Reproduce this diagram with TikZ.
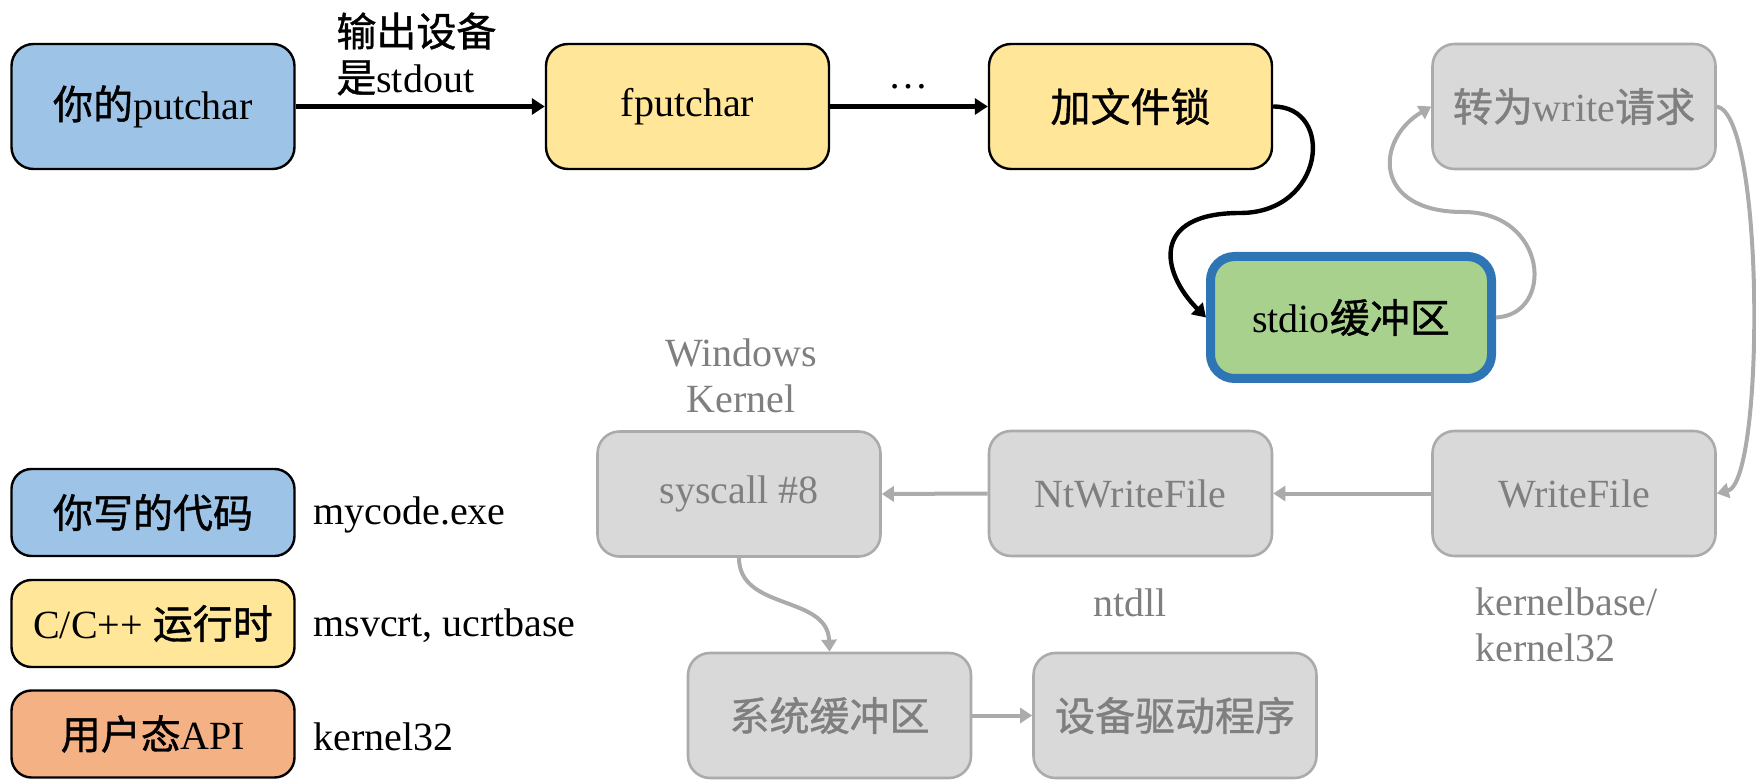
\documentclass[tikz,border=0pt]{standalone}
\usepackage{fontspec}
\setmainfont{Liberation Serif}
\newfontfamily\cjkfont[FakeBold=1]{Noto Sans CJK SC}
\newcommand{\zh}[1]{{\cjkfont #1}}
\usetikzlibrary{arrows.meta}

\definecolor{codeblue}{HTML}{9DC3E6}
\definecolor{rtyellow}{HTML}{FFE699}
\definecolor{bufgreen}{HTML}{A9D18E}
\definecolor{apiorange}{HTML}{F4B183}
\definecolor{boxgray}{HTML}{D9D9D9}
\definecolor{edgegray}{HTML}{ABABAB}
\definecolor{textgray}{HTML}{7F7F7F}
\definecolor{stdioblue}{HTML}{2E75B6}

\begin{document}
\begin{tikzpicture}[x=0.5pt,y=-0.5pt,
  font=\fontsize{20}{23}\selectfont,
  box/.style={draw=black, line width=1.2pt, rounded corners=11pt,
    minimum width=141.5pt, minimum height=62.5pt, inner sep=0pt},
  gbox/.style={draw=edgegray, fill=boxgray, text=textgray, line width=1.3pt,
    rounded corners=11pt, minimum width=141.5pt, minimum height=62.5pt, inner sep=0pt},
  legendbox/.style={box, minimum height=43.5pt, rounded corners=10pt},
  lbl/.style={inner sep=0pt},
  glbl/.style={inner sep=0pt, text=textgray},
  blk/.style={line width=2.2pt, -{Triangle[length=6.5pt,width=8pt]}},
  gry/.style={draw=edgegray, line width=2pt, -{Triangle[length=6pt,width=7.5pt]}}
]
\useasboundingbox (0,0) rectangle (1756,780);

% main call chain
\node[box, fill=codeblue]  (put)  at (153,106.5)  {\zh{你的}putchar};
\node[box, fill=rtyellow]  (fput) at (687.5,106.5) {fputchar};
\node[box, fill=rtyellow]  (lock) at (1130.5,106.5) {\zh{加文件锁}};
\node[gbox]                (req)  at (1574,106.5) {\zh{转为}write\zh{请求}};
\node[draw=stdioblue, line width=4.5pt, fill=bufgreen, rounded corners=12pt,
      minimum width=140.5pt, minimum height=61pt, inner sep=0pt]
                           (buf)  at (1351,317.5) {stdio\zh{缓冲区}};
\node[gbox]                (wf)   at (1574,493.5) {WriteFile};
\node[gbox]                (ntw)  at (1130.5,493.5) {NtWriteFile};
\node[gbox]                (sys)  at (739,494)    {syscall \#8};
\node[gbox]                (kbuf) at (829.5,715.5) {\zh{系统缓冲区}};
\node[gbox]                (drv)  at (1175,715.5) {\zh{设备驱动程序}};

% captions
\node[lbl, anchor=west, align=left] (dev) at (336,54) {\zh{输出设备}\\\zh{是}stdout};
\node[lbl, anchor=base] (dots) at (908,89) {…};
\node[glbl, align=center] (kern) at (741,376) {Windows\\Kernel};
\node[glbl] (ntdll) at (1130,603) {ntdll};
\node[glbl, anchor=west, align=left] (kbase) at (1475,625) {kernelbase/\\kernel32};

% legend
\node[legendbox, fill=codeblue]  (lg1) at (153,512.5) {\zh{你写的代码}};
\node[legendbox, fill=rtyellow]  (lg2) at (153,623.5) {C/C++ \zh{运行时}};
\node[legendbox, fill=apiorange] (lg3) at (153,734)   {\zh{用户态}API};
\node[lbl, anchor=west] (lt1) at (313,515) {mycode.exe};
\node[lbl, anchor=west] (lt2) at (313,626) {msvcrt, ucrtbase};
\node[lbl, anchor=west] (lt3) at (313,737) {kernel32};

% connectors
\coordinate (m1) at (1240,213);
\coordinate (m2) at (1463,212);
\draw[blk] (put.east) -- (fput.west);
\draw[blk] (fput.east) -- (lock.west);
\draw[blk] (lock.east) .. controls +(62,0) and +(85,0) .. (m1)
           .. controls +(-90,0) and +(-45,-45) .. (buf.west);
\draw[gry] (buf.east) .. controls +(59,-3) and +(85,0) .. (m2)
           .. controls +(-91,0) and +(-56,33) .. (req.west);
\draw[gry] (req.east) .. controls +(48,8) and +(48,-12) .. (wf.east);
\draw[gry] (wf.west) -- (ntw.east);
\draw[gry] (ntw.west) -- (sys.east);
\draw[gry] (sys.south) .. controls +(0,53) and +(-2,-57) .. (kbuf.north);
\draw[gry] (kbuf.east) -- (drv.west);
\end{tikzpicture}
\end{document}
